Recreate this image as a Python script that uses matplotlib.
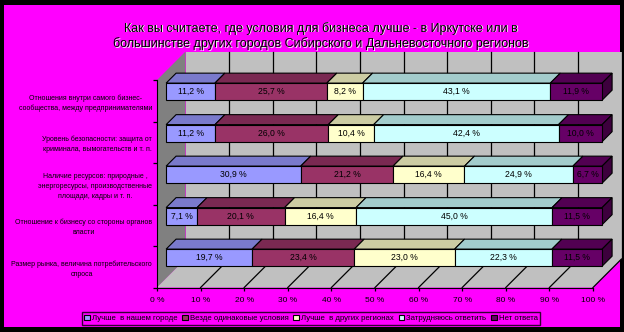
"""
Где условия для бизнеса лучше: Иркутск или другие города Сибири и ДВ.
Объёмная нормированная линейчатая диаграмма в стиле Excel.
"""
import numpy as np
import matplotlib
matplotlib.use("Agg")
import matplotlib.pyplot as plt
import matplotlib.transforms as mtransforms
from matplotlib.patches import Polygon, Rectangle

plt.rcParams['font.family'] = ['Liberation Sans', 'DejaVu Sans']

# Данные (снизу вверх по оси категорий)
categories = [
    "Размер рынка, величина потребительского\nспроса",
    "Отношение к бизнесу со стороны органов\nвласти",
    "Наличие ресурсов: природные ,\nэнергоресурсы, производственные\nплощади, кадры и т. п.",
    "Уровень безопасности: защита от\nкриминала, вымогательств и т. п.",
    "Отношения внутри самого бизнес-\nсообщества, между предпринимателями",
]
series_names = ["Лучше  в нашем городе", "Везде одинаковые условия",
                "Лучше  в других регионах", "Затрудняюсь ответить", "Нет ответа"]
better_here = [19.7, 7.1, 30.9, 11.2, 11.2]
same_everywhere = [23.4, 20.1, 21.2, 26.0, 25.7]
better_elsewhere = [23.0, 16.4, 16.4, 10.4, 8.2]
hard_to_say = [22.3, 45.0, 24.9, 42.4, 43.1]
no_answer = [11.5, 11.5, 6.7, 10.0, 11.9]
values = np.array([better_here, same_everywhere, better_elsewhere,
                   hard_to_say, no_answer])
x_ticks = np.arange(0, 101, 10)
x_labels = [f"{t} %" for t in x_ticks]

# Цвета: лицевая грань, верхняя грань, боковая грань
front_colors = ["#9999FF", "#993366", "#FFFFCC", "#CCFFFF", "#660066"]
top_colors = ["#7A7ACC", "#7A2952", "#CCCCA3", "#A3CCCC", "#520052"]
side_colors = ["#5C5C99", "#5C1F3D", "#99997A", "#7A9999", "#3D003D"]
bg = "#FF00FF"

W, H = 624, 332
fig = plt.figure(figsize=(W / 100, H / 100), dpi=100, facecolor="black")
fig.patches.append(Rectangle((4 / W, 5.5 / H), 616 / W, 322 / H,
                             transform=fig.transFigure, facecolor=bg,
                             edgecolor="none", zorder=-5))

# Оси: x в процентах, y в категориях; положение подобрано под оригинал
px_per_pct = 4.36
px_per_cat = 41.5
x0_px, y0_px = 157, 287.5
ax = fig.add_axes([0, 0, 1, 1])
ax.set_facecolor("none")
ax.set_xlim(-x0_px / px_per_pct, (W - x0_px) / px_per_pct)
ax.set_ylim(-(H - y0_px) / px_per_cat, y0_px / px_per_cat)

# Глубина (вектор от передней плоскости к задней стенке)
Dx, Dy = 28.5 / px_per_pct, 28.5 / px_per_cat
n = len(categories)

# Стенки и пол
ax.add_patch(Rectangle((Dx, Dy), 100, n, facecolor="#C0C0C0",
                       edgecolor="none", zorder=1))
ax.add_patch(Polygon([(0, 0), (0, n), (Dx, n + Dy), (Dx, Dy)],
                     facecolor="#808080", edgecolor="none", zorder=1))
ax.add_patch(Polygon([(0, 0), (100, 0), (100 + Dx, Dy), (Dx, Dy)],
                     facecolor="#C0C0C0", edgecolor="none", zorder=1))
for t in x_ticks[1:]:
    ax.plot([t + Dx, t + Dx], [Dy, n + Dy], color="black", lw=0.9, zorder=1.5)
    ax.plot([t, t + Dx], [0, Dy], color="black", lw=0.9, zorder=1.5)

# Столбцы
f0, f1 = 0.32, 0.67
ox, oy = f0 * Dx, f0 * Dy
ddx, ddy = (f1 - f0) * Dx, (f1 - f0) * Dy
bar_h = 0.41
shares = values / values.sum(axis=0) * 100
lefts = np.vstack([np.zeros(n), np.cumsum(shares, axis=0)[:-1]])
yc = np.arange(n) + 0.5 + oy

for s in range(len(series_names)):
    ax.barh(yc, shares[s], left=lefts[s] + ox, height=bar_h,
            color=front_colors[s], edgecolor="black", linewidth=0.8,
            label=series_names[s], zorder=4)
    for i in range(n):
        l = lefts[s, i] + ox
        r = l + shares[s, i]
        top = yc[i] + bar_h / 2
        bot = yc[i] - bar_h / 2
        ax.add_patch(Polygon([(l, top), (r, top), (r + ddx, top + ddy),
                              (l + ddx, top + ddy)], facecolor=top_colors[s],
                             edgecolor="black", lw=0.8, zorder=3))
        if s == len(series_names) - 1:
            ax.add_patch(Polygon([(r, bot), (r, top), (r + ddx, top + ddy),
                                  (r + ddx, bot + ddy)],
                                 facecolor=side_colors[s], edgecolor="black",
                                 lw=0.8, zorder=3))
        label = f"{values[s, i]:.1f}".replace(".", ",") + " %"
        ax.text(l + shares[s, i] / 2, yc[i], label, ha="center", va="center",
                fontsize=6.2, color="black", zorder=5)

# Оси и подписи
for side in ["top", "right"]:
    ax.spines[side].set_visible(False)
ax.spines["bottom"].set_position(("data", 0))
ax.spines["bottom"].set_bounds(0, 100)
ax.spines["left"].set_position(("data", 0))
ax.spines["left"].set_bounds(0, n)
ax.set_xticks(x_ticks, x_labels, fontsize=6)
ax.tick_params(axis="x", length=2.5, width=0.9, pad=4)
ax.set_yticks(np.arange(n) + 0.5, categories, fontsize=5.0,
              multialignment="center", linespacing=1.6)
ax.tick_params(axis="y", which="major", length=0, pad=3.6)
ax.set_yticks(np.arange(n + 1), minor=True)
ax.tick_params(axis="y", which="minor", length=3, width=0.9)

# Заголовок с тенью
title = ("Как вы считаете, где условия для бизнеса лучше - в Иркутске или в\n"
         "большинстве других городов Сибирского и Дальневосточного регионов")
shadow = mtransforms.offset_copy(fig.transFigure, fig=fig, x=0.6, y=-0.6,
                                 units="dots")
fig.text(321 / W, 1 - 36 / H, title, transform=shadow, ha="center",
         va="center", fontsize=9, color="#F0F0F0", linespacing=1.25, zorder=1)
fig.text(321 / W, 1 - 36 / H, title, ha="center",
         va="center", fontsize=9, color="black", linespacing=1.25, zorder=2)

leg = fig.legend(loc="center", bbox_to_anchor=(311 / W, 1 - 318.5 / H),
                 ncol=5, fontsize=5.6, frameon=True, fancybox=False,
                 handlelength=0.7, handleheight=0.7, handletextpad=0.3,
                 columnspacing=0.6, borderpad=0.3, borderaxespad=0)
leg.get_frame().set_facecolor(bg)
leg.get_frame().set_edgecolor("black")
leg.get_frame().set_linewidth(1)

fig.savefig("out.png", dpi=100, facecolor=fig.get_facecolor())
